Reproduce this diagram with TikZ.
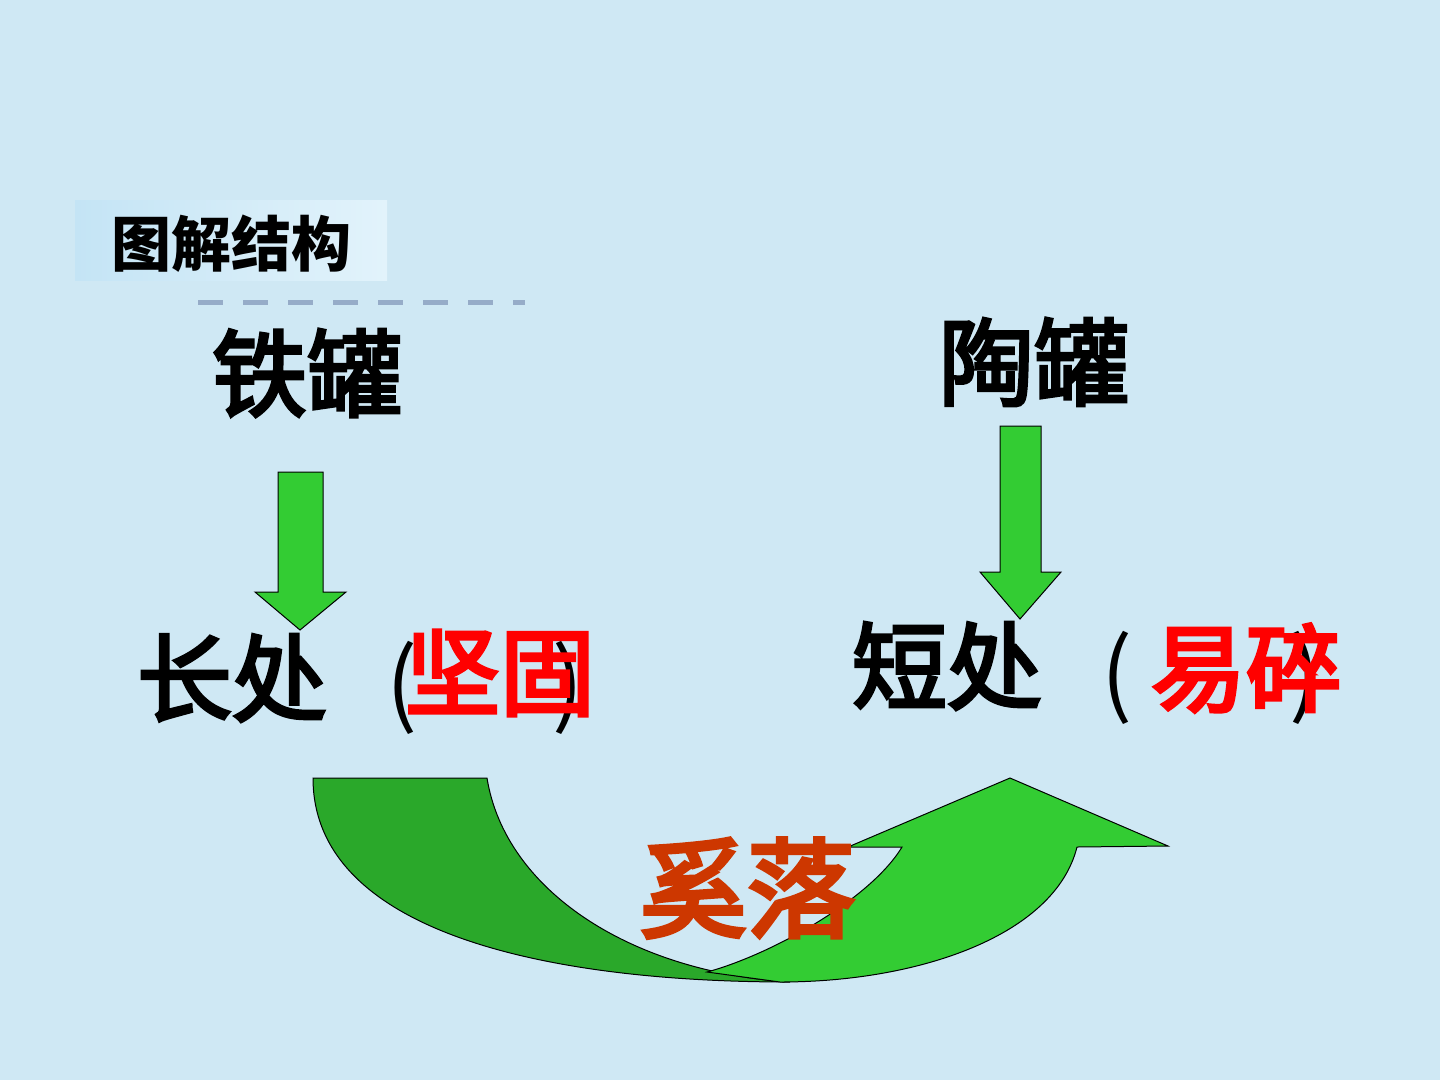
\documentclass[tikz,border=0pt]{standalone}
\usepackage{fontspec}
\newfontfamily\cjk{Noto Sans CJK SC}
\newfontfamily\cjkfb{Noto Sans CJK SC}[FakeBold=3.5]
\newfontfamily\cjkfr{Noto Sans CJK SC}[FakeBold=4]
\definecolor{bg}{RGB}{207,232,244}
\definecolor{boxL}{RGB}{196,228,245}
\definecolor{boxR}{RGB}{226,243,251}
\definecolor{dashc}{RGB}{150,172,200}
\definecolor{gLight}{RGB}{51,204,51}
\definecolor{gDark}{RGB}{42,168,42}
\definecolor{redT}{RGB}{255,0,0}
\definecolor{orT}{RGB}{205,55,0}
\tikzset{
  bigtxt/.style={inner sep=0pt, font=\cjkfb\fontsize{95}{100}\selectfont},
  redtxt/.style={inner sep=0pt, font=\cjkfr\fontsize{95}{100}\selectfont, text=redT},
  paren/.style={inner sep=0pt, font=\cjk\fontsize{92}{100}\selectfont},
  blockarrow/.style={fill=gLight, draw=black, line width=1pt, line join=miter},
}
\begin{document}
\begin{tikzpicture}[x=1pt,y=-1pt]
\fill[bg] (0,0) rectangle (1440,1080);
\useasboundingbox (0,0) rectangle (1440,1080);
% title box
\shade[left color=boxL, right color=boxR] (75,200) rectangle (387,280);
\node[inner sep=0pt, font=\cjk\bfseries\fontsize{60}{62}\selectfont] (title) at (231,244) {图解结构};
\draw[dashc, line width=5pt, dash pattern=on 25pt off 20pt] (198,302) -- (525,302);
% top labels
\node[bigtxt] (tie) at (307,373) {铁罐};
\node[bigtxt] (tao) at (1034,362) {陶罐};
% down arrows
\draw[blockarrow] (278,472) -- (323,472) -- (323,592) -- (346,592) -- (300,630) -- (255,592) -- (278,592) -- cycle;
\draw[blockarrow] (1000,426) -- (1041,426) -- (1041,572) -- (1061,572) -- (1020,619) -- (980,572) -- (1000,572) -- cycle;
% lower labels
\node[bigtxt] (chang) at (232,678) {长处};
\node[paren] (lp1) at (402,688) {(};
\node[paren] (rp1) at (568,688) {)};
\node[redtxt] (jian) at (500,673) {坚固};
\node[bigtxt] (duan) at (947,666) {短处};
\node[paren] (lp2) at (1117,678) {(};
\node[paren] (rp2) at (1305,678) {)};
\node[redtxt] (yi) at (1246,668) {易碎};
% curved arrows
\draw[fill=gDark, draw=black, line width=1pt]
  (313,778) -- (487,778)
  .. controls (505,890) and (630,972) .. (790,982)
  .. controls (540,982) and (313,930) .. (313,778) -- cycle;
\draw[blockarrow]
  (707,972) .. controls (770,955) and (870,900) .. (902,847)
  -- (848,847) -- (1010,778) -- (1168,846) -- (1077,847)
  .. controls (1055,935) and (920,982) .. (780,982) -- cycle;
\node[inner sep=0pt, text=orT, font=\cjkfr\fontsize{108}{110}\selectfont] (xi) at (747,888) {奚落};
\end{tikzpicture}
\end{document}
